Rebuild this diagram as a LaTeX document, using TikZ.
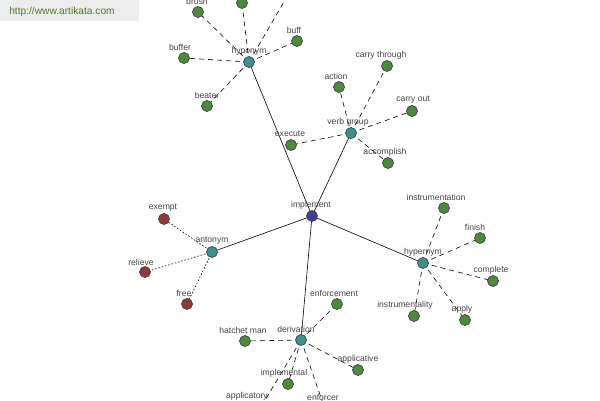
\documentclass[tikz,border=0pt]{standalone}
\usepackage{fontspec}
\setmainfont{Liberation Sans}
\definecolor{gnode}{HTML}{4E8A3E}
\definecolor{tnode}{HTML}{3E9090}
\definecolor{rnode}{HTML}{8E3B3B}
\definecolor{bnode}{HTML}{3F3F9C}
\definecolor{lbl}{HTML}{444444}
\definecolor{urlbg}{HTML}{ECECEC}
\definecolor{urltx}{HTML}{4A7A28}
\tikzset{
  dot/.style={circle,minimum size=11pt,inner sep=0pt,draw=black!75,line width=0.7pt},
  gdot/.style={dot,fill=gnode},
  tdot/.style={dot,fill=tnode},
  rdot/.style={dot,fill=rnode},
  bdot/.style={dot,fill=bnode},
  lab/.style={text=lbl,font=\fontsize{8.6}{9}\selectfont,inner sep=0pt},
  main/.style={line width=0.6pt},
  dsh/.style={line width=0.6pt,dash pattern=on 5pt off 4pt},
  dtt/.style={line width=0.6pt,dash pattern=on 1.6pt off 1.8pt},
}
\begin{document}
\begin{tikzpicture}[x=1pt,y=-1pt]
\useasboundingbox (0,0) rectangle (600,400);
\clip (0,0) rectangle (600,400);
\fill[white] (0,0) rectangle (600,400);
% url box
\fill[urlbg] (0,0) rectangle (139,21);
\node[text=urltx,font=\fontsize{10.2}{11}\selectfont,inner sep=0pt] (url) at (62,11.5) {http://www.artikata.com};
% nodes
\coordinate (P-impl) at (312,216);
\coordinate (P-hypo) at (249,62);
\coordinate (P-verb) at (351,133);
\coordinate (P-anto) at (212,252);
\coordinate (P-hyper) at (423,263);
\coordinate (P-deriv) at (301,340);
% edges
\draw[main] (P-impl) -- (P-hypo);
\draw[main] (P-impl) -- (P-verb);
\draw[main] (P-impl) -- (P-anto);
\draw[main] (P-impl) -- (P-hyper);
\draw[main] (P-impl) -- (P-deriv);
% hyponym leaves
\coordinate (brush) at (198,12);
\coordinate (topn) at (242,3);
\coordinate (topr) at (292,-12);
\coordinate (buff) at (297,41);
\coordinate (buffer) at (184,58);
\coordinate (beater) at (207,106);
\foreach \n in {brush,topn,topr,buff,buffer,beater} \draw[dsh] (P-hypo) -- (\n);
% verb group leaves
\coordinate (action) at (339,87);
\coordinate (carrythrough) at (387,66);
\coordinate (carryout) at (412,111);
\coordinate (execute) at (291,145);
\coordinate (accomplish) at (388,163);
\foreach \n in {action,carrythrough,carryout,execute,accomplish} \draw[dsh] (P-verb) -- (\n);
% antonym leaves
\coordinate (exempt) at (164,219);
\coordinate (relieve) at (145,272);
\coordinate (free) at (187,304);
\foreach \n in {exempt,relieve,free} \draw[dtt] (P-anto) -- (\n);
% hypernym leaves
\coordinate (instrumentation) at (444,208);
\coordinate (finish) at (480,238);
\coordinate (complete) at (493,281);
\coordinate (instrumentality) at (414,316);
\coordinate (apply) at (465,320);
\foreach \n in {instrumentation,finish,complete,instrumentality,apply} \draw[dsh] (P-hyper) -- (\n);
% derivation leaves
\coordinate (enforcement) at (337,304);
\coordinate (hatchet) at (245,341);
\coordinate (applicative) at (358,370);
\coordinate (implemental) at (288,384);
\coordinate (applicatory) at (258,412);
\coordinate (enforcer) at (326,412);
\foreach \n in {enforcement,hatchet,applicative,implemental,applicatory,enforcer} \draw[dsh] (P-deriv) -- (\n);
% dots
\foreach \n in {brush,topn,buff,buffer,beater,action,carrythrough,carryout,execute,accomplish,instrumentation,finish,complete,instrumentality,apply,enforcement,hatchet,applicative,implemental,applicatory,enforcer}
  \node[gdot] (d-\n) at (\n) {};
\foreach \n in {exempt,relieve,free} \node[rdot] (d-\n) at (\n) {};
\node[tdot] (hypo) at (P-hypo) {};
\node[tdot] (verb) at (P-verb) {};
\node[tdot] (anto) at (P-anto) {};
\node[tdot] (hyper) at (P-hyper) {};
\node[tdot] (deriv) at (P-deriv) {};
\node[bdot] (impl) at (P-impl) {};
% labels
\node[lab] (l-impl) at (311,205) {implement};
\node[lab] (l-hypo) at (249,51) {hyponym};
\node[lab] (l-brush) at (197,1) {brush};
\node[lab] (l-buff) at (294,30) {buff};
\node[lab] (l-buffer) at (180,47) {buffer};
\node[lab] (l-beater) at (207,95) {beater};
\node[lab] (l-verb) at (348,122) {verb group};
\node[lab] (l-action) at (336,76) {action};
\node[lab] (l-ct) at (381,55) {carry through};
\node[lab] (l-co) at (413,100) {carry out};
\node[lab] (l-exec) at (290,134) {execute};
\node[lab] (l-acc) at (385,152) {accomplish};
\node[lab] (l-anto) at (212,241) {antonym};
\node[lab] (l-exempt) at (163,208) {exempt};
\node[lab] (l-relieve) at (141,262) {relieve};
\node[lab] (l-free) at (184,293) {free};
\node[lab] (l-hyper) at (423,252) {hypernym};
\node[lab] (l-instr) at (436,197) {instrumentation};
\node[lab] (l-finish) at (475,227) {finish};
\node[lab] (l-complete) at (491,270) {complete};
\node[lab] (l-instrl) at (405,305) {instrumentality};
\node[lab] (l-apply) at (462,309) {apply};
\node[lab] (l-deriv) at (296,329) {derivation};
\node[lab] (l-enfm) at (334,293) {enforcement};
\node[lab] (l-hatchet) at (243,330) {hatchet man};
\node[lab] (l-applicative) at (358,359) {applicative};
\node[lab] (l-impl2) at (284,373) {implemental};
\node[lab] (l-applicatory) at (247,396) {applicatory};
\node[lab] (l-enforcer) at (323,397) {enforcer};
\end{tikzpicture}
\end{document}
